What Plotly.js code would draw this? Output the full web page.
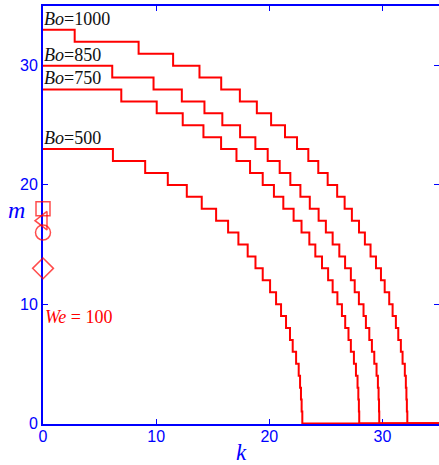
<!DOCTYPE html>
<html>
<head>
<meta charset="utf-8">
<script src="https://cdn.plot.ly/plotly-3.0.1.min.js"></script>
<style>html,body{margin:0;padding:0;background:#fff;overflow:hidden}</style>
</head>
<body>
<div id="chart" style="width:439px;height:465px"></div>
<script>
// ---- data ----
const kEnd = 35;
// Bo = 1000
const k1000 = [0, 2.8, 8.45, 11.5, 13.83, 15.75, 17.4, 18.9, 20.16, 21.39, 22.45, 23.45, 24.33, 25.16, 26.0, 26.66, 27.3, 27.93, 28.45, 28.95, 29.43, 29.87, 30.2, 30.6, 30.9, 31.19, 31.4, 31.63, 31.78, 31.98, 32.07, 32.12, 32.16, 32.2];
const m1000 = [33, 32, 31, 30, 29, 28, 27, 26, 25, 24, 23, 22, 21, 20, 19, 18, 17, 16, 15, 14, 13, 12, 11, 10, 9, 8, 7, 6, 5, 4, 3, 2, 1, 0];
// Bo = 850
const k850 = [0, 6.12, 9.77, 12.27, 14.27, 15.85, 17.42, 18.77, 19.86, 20.92, 21.86, 22.75, 23.58, 24.36, 25.0, 25.6, 26.19, 26.7, 27.21, 27.55, 27.92, 28.33, 28.54, 28.84, 29.07, 29.28, 29.48, 29.6, 29.66, 29.7, 29.72];
const m850 = [30, 29, 28, 27, 26, 25, 24, 23, 22, 21, 20, 19, 18, 17, 16, 15, 14, 13, 12, 11, 10, 9, 8, 7, 6, 5, 4, 3, 2, 1, 0];
// Bo = 750
const k750 = [0, 6.92, 10.05, 12.35, 14.18, 15.74, 17.1, 18.3, 19.42, 20.41, 21.24, 22.15, 22.85, 23.54, 24.07, 24.66, 25.2, 25.6, 26.02, 26.42, 26.71, 27.0, 27.21, 27.48, 27.66, 27.8, 27.87, 27.92, 27.95];
const m750 = [28, 27, 26, 25, 24, 23, 22, 21, 20, 19, 18, 17, 16, 15, 14, 13, 12, 11, 10, 9, 8, 7, 6, 5, 4, 3, 2, 1, 0];
// Bo = 500
const k500 = [0, 6.18, 9.03, 11.03, 12.71, 14.03, 15.3, 16.36, 17.27, 18.09, 18.78, 19.42, 20.07, 20.6, 21.04, 21.48, 21.83, 22.07, 22.37, 22.6, 22.72, 22.8, 22.86, 22.92];
const m500 = [23, 22, 21, 20, 19, 18, 17, 16, 15, 14, 13, 12, 11, 10, 9, 8, 7, 6, 5, 4, 3, 2, 1, 0];

const curveLabels = ["<i>Bo</i>=1000", "<i>Bo</i>=850", "<i>Bo</i>=750", "<i>Bo</i>=500"];

// We = 100 markers on the m axis
const markK = [0, 0, 0, 0];
const markM = [18, 17, 16, 13];
const markSymbols = ["square-open", "triangle-left-open", "circle-open", "diamond-open"];
const weLabel = "<i>We</i> = 100";
const weLabelM = 8.9;

const xTicks = [0, 10, 20, 30];
const yTicks = [0, 10, 20, 30];

// ---- drawing ----
const RED = "#ff0000", BLUE = "#0000ff";
const curves = [[k1000, m1000], [k850, m850], [k750, m750], [k500, m500]];
const traces = curves.map(([k, m]) => ({
  type: "scatter", mode: "lines",
  x: k.concat([kEnd]), y: m.concat([m[m.length - 1]]),
  line: {color: RED, width: 2, shape: "hv"},
  hoverinfo: "skip"
}));
traces.push({
  type: "scatter", mode: "markers", x: markK, y: markM,
  marker: {symbol: markSymbols, size: [14, 16, 15, 16], color: RED, line: {color: RED, width: 1.5}},
  cliponaxis: false, hoverinfo: "skip"
});
// invisible trace so the right-hand tick axis is drawn
traces.push({type: "scatter", mode: "none", x: [null], y: [null], yaxis: "y2", hoverinfo: "skip"});

const annotations = curves.map(([k, m], i) => ({
  xref: "x", yref: "y", x: k[0], y: m[0], xanchor: "left", yanchor: "bottom",
  text: curveLabels[i], showarrow: false, borderpad: 0, xshift: 0, yshift: 0,
  font: {family: "Liberation Serif, Times New Roman, serif", size: 18, color: "#111"}
}));
annotations.push({
  xref: "x", yref: "y", x: 0, y: weLabelM, xanchor: "left", yanchor: "middle",
  text: weLabel, showarrow: false, borderpad: 0, xshift: 1,
  font: {family: "Liberation Serif, Times New Roman, serif", size: 18, color: RED}
});
annotations.push({
  xref: "paper", yref: "paper", x: -0.068, y: 0.512, xanchor: "center", yanchor: "middle",
  text: "<i>m</i>", showarrow: false,
  font: {family: "Liberation Serif, Times New Roman, serif", size: 24, color: BLUE}
});
annotations.push({
  xref: "paper", yref: "paper", x: 0.5, y: -0.068, xanchor: "center", yanchor: "middle",
  text: "<i>k</i>", showarrow: false, borderpad: 0,
  font: {family: "Liberation Serif, Times New Roman, serif", size: 23, color: BLUE}
});

const tickStyle = {ticks: "inside", ticklen: 5, tickwidth: 1, tickcolor: BLUE,
  showgrid: false, zeroline: false,
  tickfont: {family: "Liberation Sans, Arial, sans-serif", size: 16, color: BLUE}};

const layout = {
  width: 439, height: 465,
  margin: {l: 43, r: 0, t: 6, b: 41},
  paper_bgcolor: "#fff", plot_bgcolor: "#fff",
  showlegend: false,
  xaxis: Object.assign({}, tickStyle, {range: [0, 35], tickvals: xTicks, ticklabelstandoff: -3,
    showline: true, linecolor: BLUE, linewidth: 2, mirror: "ticks", layer: "below traces"}),
  yaxis: Object.assign({}, tickStyle, {range: [-0.05, 35], tickvals: yTicks,
    showline: true, linecolor: BLUE, linewidth: 2, mirror: false, layer: "below traces"}),
  yaxis2: Object.assign({}, tickStyle, {overlaying: "y", side: "right", matches: "y",
    range: [-0.05, 35], tickvals: yTicks, showticklabels: false, showline: false, layer: "below traces"}),
  annotations: annotations
};

Plotly.newPlot("chart", traces, layout, {displayModeBar: false, staticPlot: true});
</script>
</body>
</html>
